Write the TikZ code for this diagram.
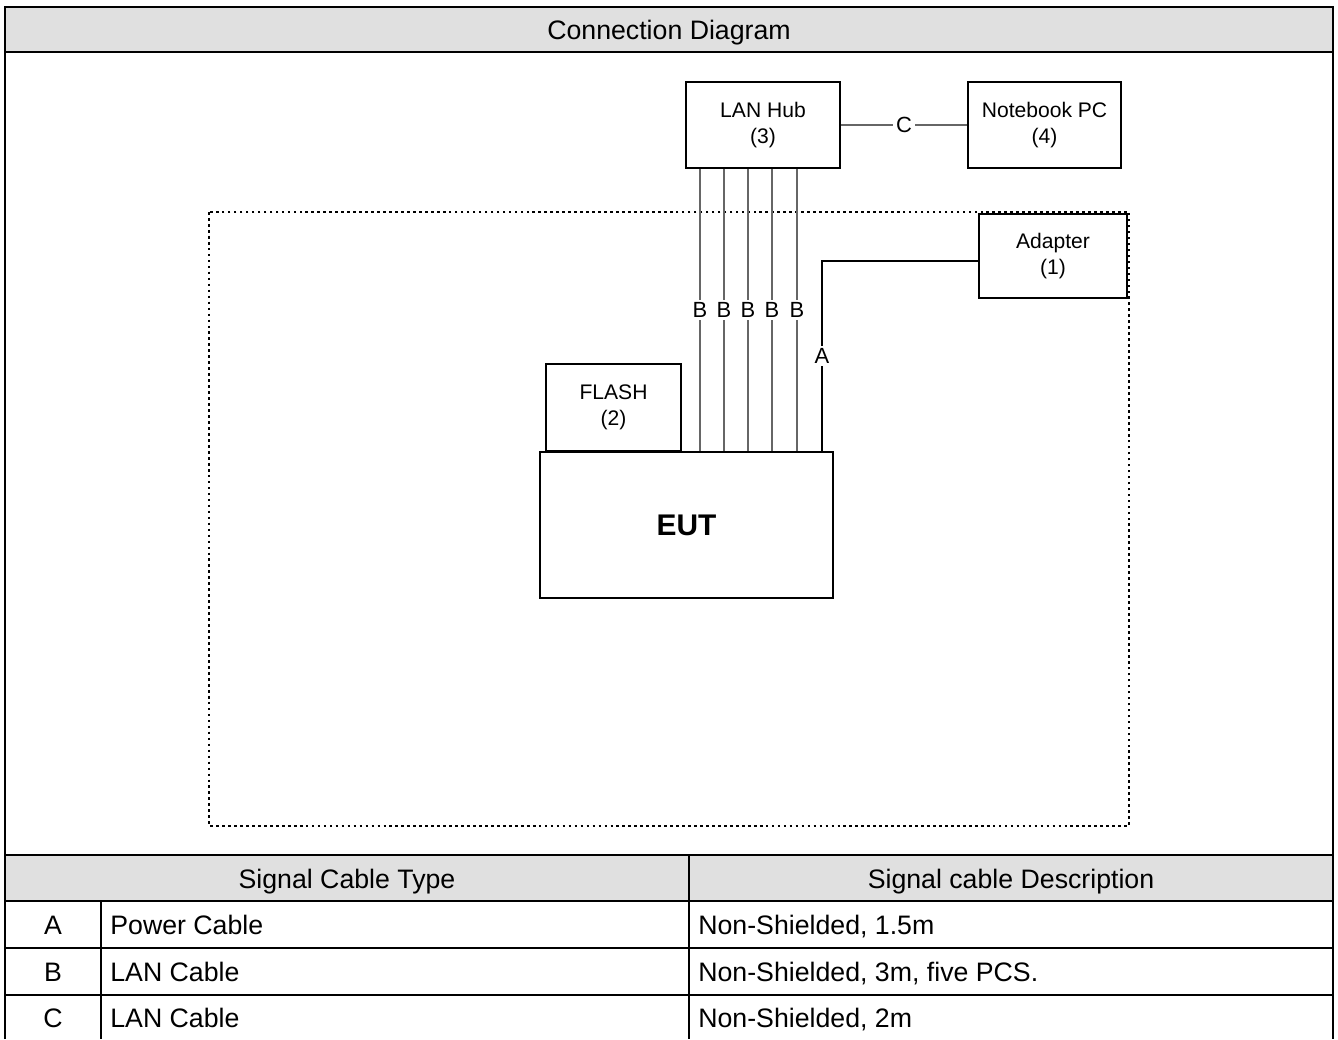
\documentclass[tikz,border=0pt]{standalone}
\usepackage{fontspec}
\setmainfont{Liberation Sans}
\usetikzlibrary{positioning,calc}
\tikzset{
  devbox/.style={draw, line width=1.1pt, fill=white, align=center, inner sep=0pt, font=\fontsize{12}{15}\selectfont},
  powercable/.style={line width=1pt},
  lancable/.style={line width=1pt, draw=black!60},
  cablelabel/.style={fill=white, inner sep=1.5pt, font=\fontsize{12.5}{14}\selectfont},
  roomline/.style={line width=1.5pt, dash pattern=on 1.5pt off 1.9pt},
  headcell/.style={fill=black!12},
  frameline/.style={line width=1.6pt},
  gridline/.style={line width=1.1pt},
  celltext/.style={font=\fontsize{15.2}{18}\selectfont, inner sep=0pt, text height=11pt, text depth=3.2pt}
}

\begin{document}
\begin{tikzpicture}[x=0.02cm, y=-0.02cm]
  \useasboundingbox (0,0) rectangle (1338,1039);
  % table frame
  \fill[headcell] (5,7) rectangle (1333,52);
  \fill[headcell] (5,855) rectangle (1333,901);
  \draw[gridline] (5,52) -- (1333,52);
  \draw[gridline] (5,855) -- (1333,855);
  \draw[gridline] (5,901) -- (1333,901);
  \draw[gridline] (5,948) -- (1333,948);
  \draw[gridline] (5,995) -- (1333,995);
  \draw[gridline] (689,855) -- (689,1039);
  \draw[gridline] (101,901) -- (101,1039);
  \draw[frameline] (5,1039) -- (5,7) -- (1333,7) -- (1333,1039);

  \node[celltext] (title) at (669,33) {Connection Diagram};

  % test area
  \draw[roomline] (209,212) rectangle (1129,826);

  % devices
  \node[devbox, minimum width=3.08cm, minimum height=1.72cm] (hub) at (763,125) {LAN Hub\\(3)};
  \node[devbox, minimum width=3.06cm, minimum height=1.72cm] (pc) at (1044.5,125) {Notebook PC\\(4)};
  \node[devbox, minimum width=2.96cm, minimum height=1.68cm] (adapter) at (1053,256) {Adapter\\(1)};
  \node[devbox, minimum width=5.86cm, minimum height=2.92cm, font=\fontsize{17}{20}\selectfont\bfseries] (eut) at (686.5,525) {EUT};
  \node[devbox, minimum width=2.70cm, minimum height=1.74cm, anchor=south] (flash) at (613.5,452) {FLASH\\(2)};

  % cables
  \foreach \bx in {700,724,748,772,797}
    \draw[lancable] (\bx,0 |- hub.south) -- (\bx,0 |- eut.north) node[cablelabel, pos=0.5] {B};
  \draw[lancable] (hub.east) -- (pc.west) node[cablelabel, pos=0.5] {C};
  \coordinate (bend) at (822,261);
  \draw[powercable] (adapter.west |- bend) -- (bend) -- (bend |- eut.north) node[cablelabel, pos=0.5] {A};

  % cable list
  \node[celltext] (typehead) at (347,882) {Signal Cable Type};
  \node[celltext] (deschead) at (1011,882) {Signal cable Description};
  \node[celltext] (ta) at (53,928) {A};
  \node[celltext] (tb) at (53,975) {B};
  \node[celltext] (tc) at (53,1021) {C};
  \node[celltext, anchor=west] (na) at (110,928) {Power Cable};
  \node[celltext, anchor=west] (nb) at (110,975) {LAN Cable};
  \node[celltext, anchor=west] (nc) at (110,1021) {LAN Cable};
  \node[celltext, anchor=west] (da) at (698,928) {Non-Shielded, 1.5m};
  \node[celltext, anchor=west] (db) at (698,975) {Non-Shielded, 3m, five PCS.};
  \node[celltext, anchor=west] (dc) at (698,1021) {Non-Shielded, 2m};
\end{tikzpicture}
\end{document}
